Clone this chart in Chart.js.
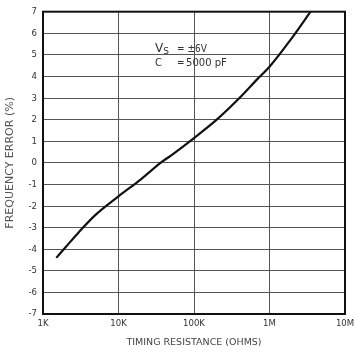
<!DOCTYPE html>
<html>
<head>
<meta charset="utf-8">
<script src="https://cdn.jsdelivr.net/npm/chart.js@4/dist/chart.umd.min.js"></script>
<style>
  html, body { margin: 0; padding: 0; background: #fff; }
  #wrap { width: 355px; height: 352px; }
</style>
</head>
<body>
<div id="wrap"><canvas id="c" width="355" height="352"></canvas></div>
<script>
// timing resistance (ohms) vs frequency error (%)
var resistance = [1500, 2000, 3000, 5000, 10000, 20000, 36000, 50000, 100000, 200000, 400000, 700000, 1000000, 2000000, 3500000];
var freqError  = [-4.4, -3.9, -3.2, -2.4, -1.55, -0.75, 0.0, 0.35, 1.15, 2.0, 3.0, 3.9, 4.45, 5.8, 7.0];

var xTicks = [1e3, 1e4, 1e5, 1e6, 1e7];
var xTickLabels = ['1K', '10K', '100K', '1M', '10M'];
var yTicks = [-7, -6, -5, -4, -3, -2, -1, 0, 1, 2, 3, 4, 5, 6, 7];

var points = resistance.map(function(r, i) {
    return { x: r, y: freqError[i] };
});

var fontFam = '"DejaVu Sans Condensed", "Liberation Sans Narrow", sans-serif';
var titleFam = '"DejaVu Sans", sans-serif';

// V_S / C note on the plot
var notePlugin = {
    id: 'note',
    afterDatasetsDraw: function(chart) {
        var ctx = chart.ctx;
        var xs = chart.scales.x, ys = chart.scales.y;
        var x0 = xs.getPixelForValue(30500);
        ctx.save();
        ctx.fillStyle = '#333';
        ctx.textBaseline = 'alphabetic';
        ctx.font = '12px ' + titleFam;
        var y1 = ys.getPixelForValue(5.12);
        ctx.fillText('V', x0, y1);
        var w = ctx.measureText('V').width;
        ctx.font = '9px ' + titleFam;
        ctx.fillText('S', x0 + w, y1 + 2);
        ctx.font = '10px ' + fontFam;
        ctx.fillText('= \u00b16V', x0 + 22, y1);
        var y2 = ys.getPixelForValue(4.47);
        ctx.font = '10px ' + titleFam;
        ctx.fillText('C', x0, y2);
        ctx.font = '10px ' + fontFam;
        ctx.fillText('=', x0 + 22, y2);
        ctx.font = '10px ' + titleFam;
        ctx.fillText('5000 pF', x0 + 31, y2);
        ctx.restore();
    }
};

// thick black frame round the plot
var framePlugin = {
    id: 'frame',
    afterDraw: function(chart) {
        var a = chart.chartArea, ctx = chart.ctx;
        ctx.save();
        ctx.strokeStyle = '#111';
        ctx.lineWidth = 2;
        ctx.strokeRect(a.left, a.top, a.right - a.left, a.bottom - a.top);
        ctx.restore();
    }
};

new Chart(document.getElementById('c').getContext('2d'), {
    type: 'line',
    data: {
        datasets: [{
            data: points,
            borderColor: '#111',
            borderWidth: 2.2,
            pointRadius: 0,
            fill: false,
            cubicInterpolationMode: 'monotone'
        }]
    },
    options: {
        responsive: false,
        animation: false,
        layout: { padding: { top: 11, right: 10, left: 0, bottom: 0 } },
        plugins: { legend: { display: false }, tooltip: { enabled: false } },
        scales: {
            x: {
                type: 'logarithmic',
                min: 1e3,
                max: 1e7,
                afterBuildTicks: function(scale) {
                    scale.ticks = xTicks.map(function(v) { return { value: v }; });
                },
                afterFit: function(scale) {
                    scale.height = 38;
                    scale.paddingRight = 0;
                    scale.paddingLeft = 0;
                },
                ticks: {
                    autoSkip: false,
                    maxRotation: 0,
                    padding: 4,
                    color: '#333',
                    font: { family: fontFam, size: 9.5 },
                    callback: function(v) {
                        var i = xTicks.indexOf(v);
                        return i >= 0 ? xTickLabels[i] : '';
                    }
                },
                grid: { color: '#555', lineWidth: 1, drawTicks: false },
                border: { display: false },
                title: {
                    display: true,
                    text: 'TIMING RESISTANCE (OHMS)',
                    color: '#444',
                    padding: { top: 1 },
                    font: { family: titleFam, size: 9.5 }
                }
            },
            y: {
                min: -7,
                max: 7,
                afterBuildTicks: function(scale) {
                    scale.ticks = yTicks.map(function(v) { return { value: v }; });
                },
                afterFit: function(scale) { scale.width = 43; },
                ticks: {
                    autoSkip: false,
                    padding: 6,
                    color: '#333',
                    font: { family: fontFam, size: 9.5 }
                },
                grid: { color: '#555', lineWidth: 1, drawTicks: false },
                border: { display: false },
                title: {
                    display: true,
                    text: 'FREQUENCY ERROR (%)',
                    color: '#555',
                    padding: { bottom: 2 },
                    font: { family: titleFam, size: 11 }
                }
            }
        }
    },
    plugins: [notePlugin, framePlugin]
});
</script>
</body>
</html>
